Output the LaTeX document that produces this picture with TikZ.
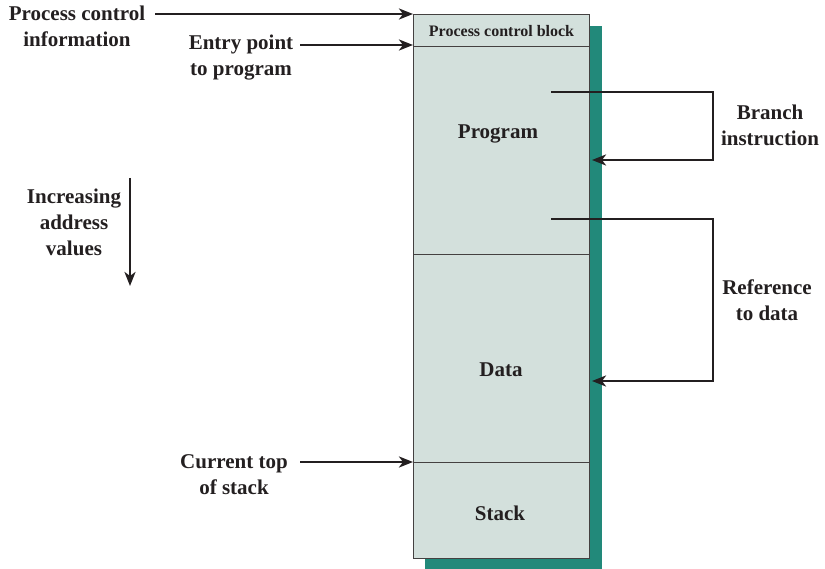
\documentclass[tikz,border=0pt]{standalone}
\usepackage{fontspec}
\setmainfont{Liberation Serif}
\usetikzlibrary{arrows.meta}
\definecolor{blockfill}{HTML}{D3E0DC}
\definecolor{shadowc}{HTML}{22897A}
\definecolor{inkc}{HTML}{231F20}
\begin{document}
\begin{tikzpicture}[x=1pt,y=-1pt,
  lbl/.style={font=\fontsize{21}{26}\selectfont\bfseries, text=inkc, align=center, inner sep=0pt},
  arr/.style={draw=inkc, line width=2.6pt, -{Stealth[length=14pt,width=11pt,inset=4pt]}},
  part/.style={draw=inkc!85, line width=1.1pt, fill=blockfill}]
\useasboundingbox (0,0) rectangle (825,569);
% shadow
\fill[shadowc] (425,26) rectangle (602,569);
% block parts
\node[part, minimum width=176pt, minimum height=32pt, anchor=north west] (pcb) at (413,14) {};
\node[part, minimum width=176pt, minimum height=208pt, anchor=north west] (prog) at (413,46) {};
\node[part, minimum width=176pt, minimum height=208pt, anchor=north west] (data) at (413,254) {};
\node[part, minimum width=176pt, minimum height=96pt, anchor=north west] (stack) at (413,462) {};
\node[font=\fontsize{16}{18}\selectfont\bfseries, text=inkc] at (pcb.center) {Process control block};
\node[lbl] at (498,134) {Program};
\node[lbl] at (501,370) {Data};
\node[lbl] at (500,513) {Stack};
% left labels
\node[lbl] (pci) at (77,26) {Process control\\information};
\node[lbl] (entry) at (241,58) {Entry point\\to program};
\node[lbl] (cur) at (234,475) {Current top\\of stack};
\node[lbl] (inc) at (74,222) {Increasing\\address\\values};
\node[lbl] (br) at (770,125) {Branch\\instruction};
\node[lbl] (ref) at (767,300) {Reference\\to data};
% arrows from labels
\coordinate (pciend) at (413,14);
\coordinate (entryend) at (413,45);
\coordinate (curend) at (413,462);
\draw[arr] (155,14) -- (pciend);
\draw[arr] (300,45) -- (entryend);
\draw[arr] (300,462) -- (curend);
\coordinate (incA) at (130,178);
\coordinate (incB) at (130,286);
\draw[arr] (incA) -- (incB);
% branch
\coordinate (b1) at (551,92);
\coordinate (b2) at (592,160);
\draw[arr] (b1) -- (713,92) -- (713,160) -- (b2);
\coordinate (r1) at (551,219);
\coordinate (r2) at (592,381);
\draw[arr] (r1) -- (713,219) -- (713,381) -- (r2);
\end{tikzpicture}
\end{document}
